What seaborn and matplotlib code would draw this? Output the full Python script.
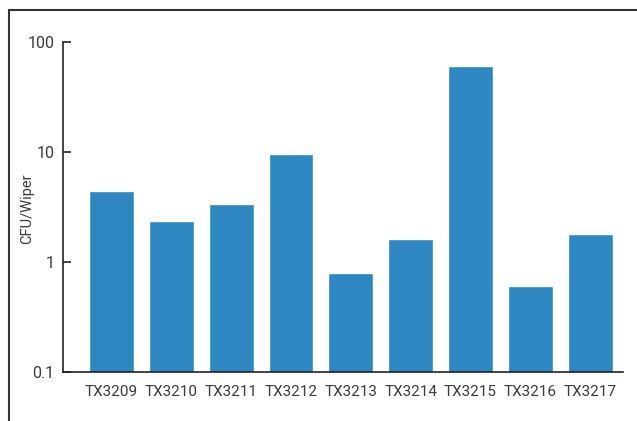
import matplotlib
matplotlib.use("Agg")
import matplotlib.pyplot as plt
import seaborn as sns
import pandas as pd
from matplotlib.lines import Line2D

samples = ["TX3209", "TX3210", "TX3211", "TX3212", "TX3213",
           "TX3214", "TX3215", "TX3216", "TX3217"]
cfu = [4.4, 2.34, 3.35, 9.5, 0.79, 1.61, 60.0, 0.60, 1.79]
yticks = [0.1, 1, 10, 100]
ytick_labels = ["0.1", "1", "10", "100"]

sns.set_theme(style="white")
plt.rcParams["font.family"] = ["Roboto", "DejaVu Sans"]

df = pd.DataFrame({"sample": samples, "cfu": cfu})

fig = plt.figure(figsize=(6.37, 4.21), dpi=100)
ax = fig.add_axes([63/637, 1-372/421, (623-63)/637, (372-41.7)/421])

sns.barplot(data=df, x="sample", y="cfu", color="#2e87c0", saturation=1,
            width=0.75, ax=ax, log_scale=(False, True))

ax.set_yscale("log")
ax.set_ylim(0.1, 100)
ax.set_xlim(-0.81, 8.55)
ax.set_yticks(yticks)
ax.set_yticklabels(ytick_labels)
ax.yaxis.set_minor_locator(matplotlib.ticker.NullLocator())

txt = "#3a3a3a"
ax.tick_params(axis="y", direction="in", length=6, width=1.2, color="#222222",
               labelsize=11.5, labelcolor=txt, pad=6, left=True)
ax.tick_params(axis="x", length=0, labelsize=11, labelcolor=txt, pad=9)
ax.set_xlabel("")
ax.set_ylabel("CFU/Wiper", fontsize=10.5, color=txt)
ax.yaxis.set_label_coords(-0.052, 0.495)

for s in ["top", "right"]:
    ax.spines[s].set_visible(False)
for s in ["left", "bottom"]:
    ax.spines[s].set_visible(True)
    ax.spines[s].set_color("#222222")
    ax.spines[s].set_linewidth(1.2)

# outer frame (top and left edges)
fig.add_artist(Line2D([9/637, 1.0], [1-10/421, 1-10/421], transform=fig.transFigure,
                      color="#333333", linewidth=1.5))
fig.add_artist(Line2D([9/637, 9/637], [0, 1-10/421], transform=fig.transFigure,
                      color="#333333", linewidth=1.5))

fig.savefig("out.png", dpi=100, facecolor="white")
